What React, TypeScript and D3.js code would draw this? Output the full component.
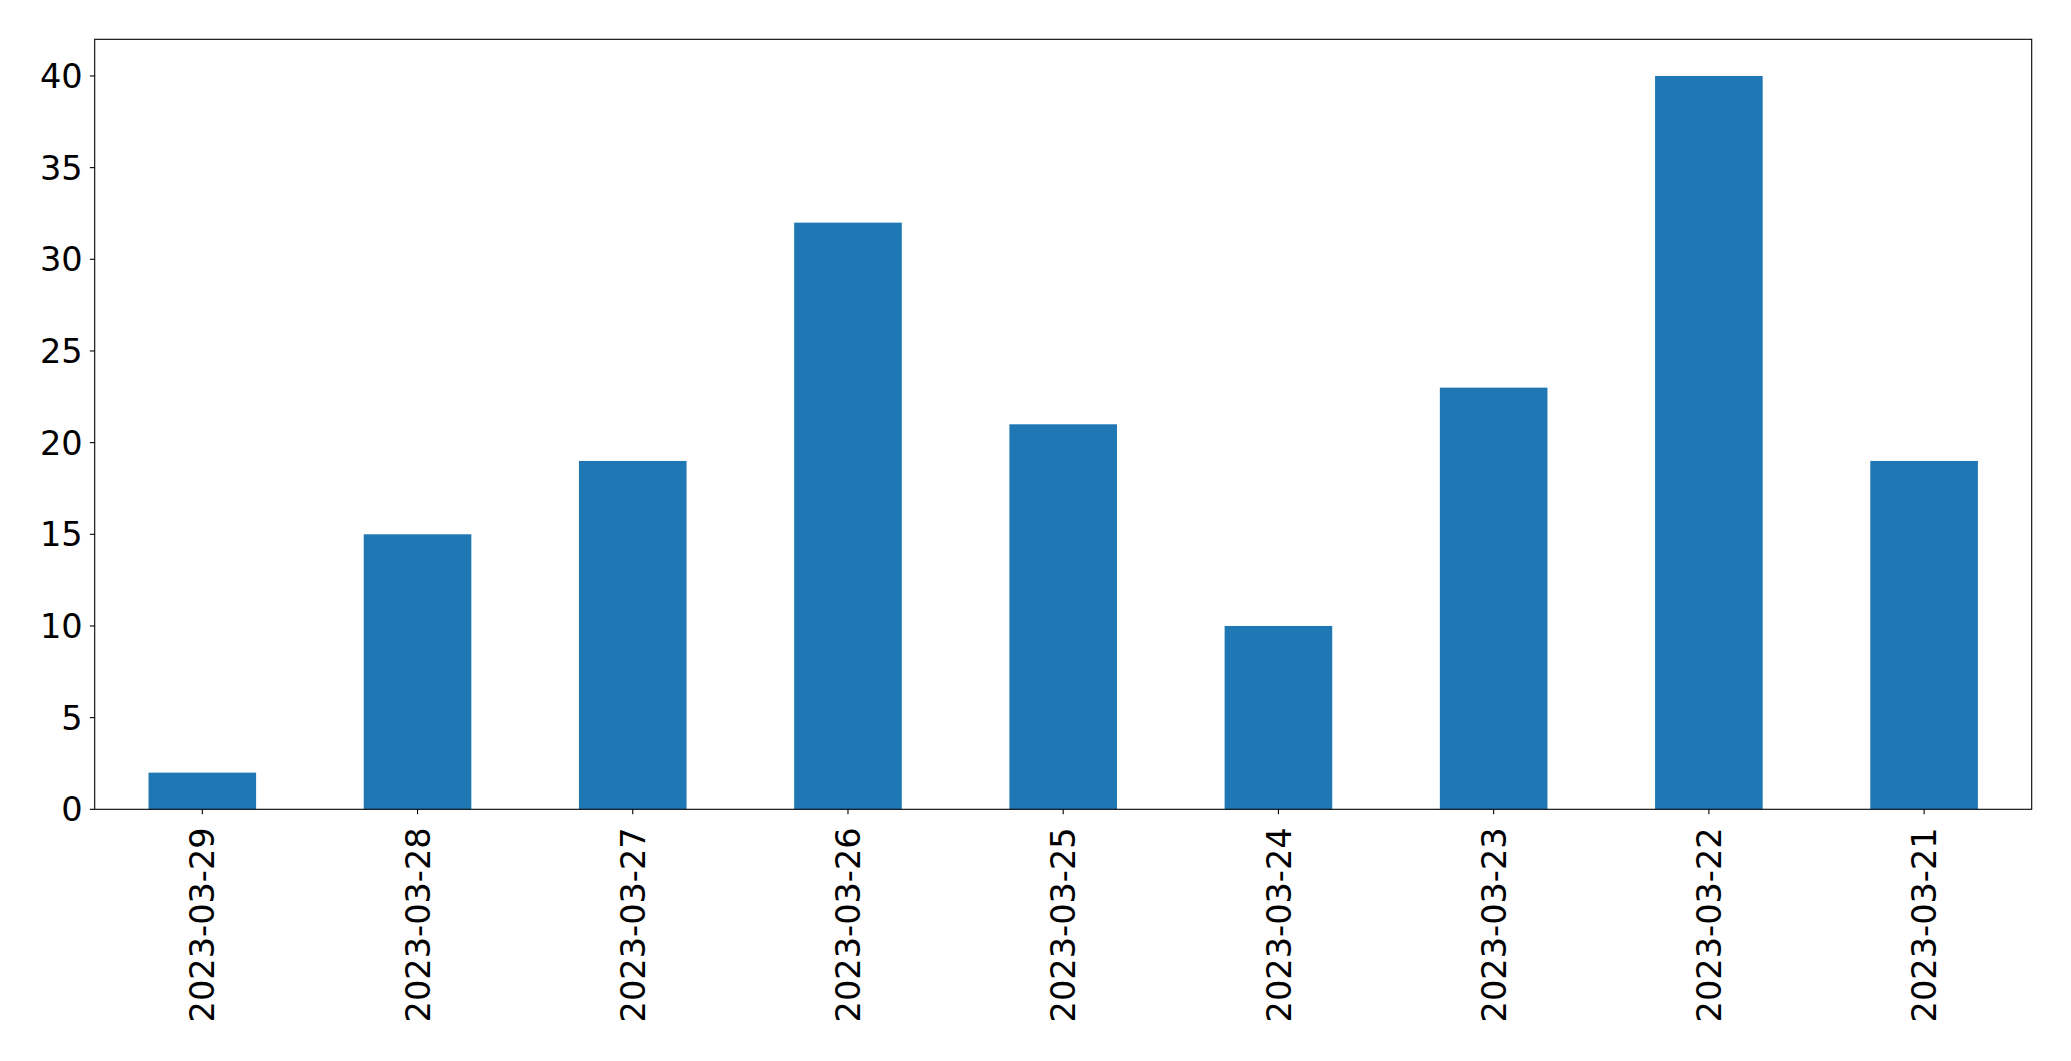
import React from "react";
import * as d3 from "d3";

const categories = ["2023-03-29", "2023-03-28", "2023-03-27", "2023-03-26", "2023-03-25", "2023-03-24", "2023-03-23", "2023-03-22", "2023-03-21"];
const values = [2, 15, 19, 32, 21, 10, 23, 40, 19];
const yTicks = [0, 5, 10, 15, 20, 25, 30, 35, 40];

const W = 2071, H = 1061;
const L = 94.7, R = 2031.7, T = 39.3, B = 809.3;
const FS = 33.6;

export default function App() {
  const x = d3.scaleLinear().domain([-0.5, categories.length - 0.5]).range([L, R]);
  const y = d3.scaleLinear().domain([0, 42]).range([B, T]);
  const bw = 0.5;
  return (
    <svg width={W} height={H} style={{ position: "absolute", left: 0, top: 0, background: "#fff" }}
      fontFamily="DejaVu Sans" >
      <rect x={0} y={0} width={W} height={H} fill="#fff" />
      {values.map((v, i) => (
        <rect key={i} x={x(i - bw / 2)} y={y(v)} width={x(i + bw / 2) - x(i - bw / 2)} height={y(0) - y(v)} fill="#1f77b4" />
      ))}
      <rect x={L} y={T} width={R - L} height={B - T} fill="none" stroke="#000" strokeWidth={1.1} />
      {yTicks.map((t) => (
        <g key={t}>
          <line x1={L - 4.9} x2={L} y1={y(t)} y2={y(t)} stroke="#000" strokeWidth={1.1} />
          <text x={L - 12} y={y(t)} dy="0.36em" textAnchor="end" fontSize={FS} fill="#000">{t}</text>
        </g>
      ))}
      {categories.map((c, i) => (
        <g key={c}>
          <line x1={x(i)} x2={x(i)} y1={B} y2={B + 4.9} stroke="#000" strokeWidth={1.1} />
          <text transform={`translate(${x(i)},${B + 18}) rotate(-90)`} dy="0.36em" textAnchor="end" fontSize={FS} fill="#000">{c}</text>
        </g>
      ))}
    </svg>
  );
}
